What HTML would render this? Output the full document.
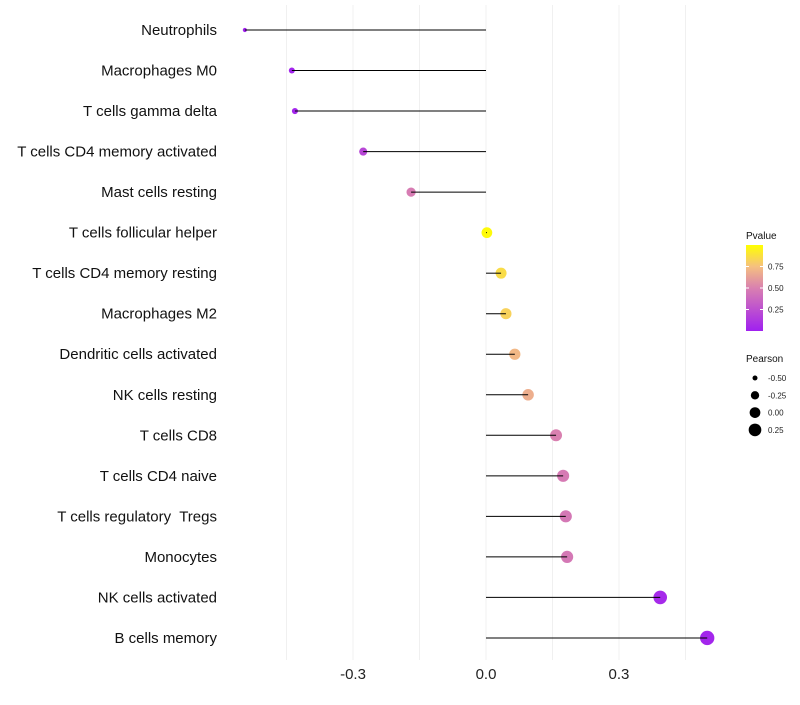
<!DOCTYPE html>
<html><head><meta charset="utf-8"><style>
body{margin:0;background:#fff;font-family:"Liberation Sans",sans-serif}
text{white-space:pre}
</style></head><body>
<svg id="c" width="800" height="700" xmlns="http://www.w3.org/2000/svg">
<defs><linearGradient id="g" x1="0" y1="1" x2="0" y2="0">
<stop offset="0" stop-color="#a020f0"/><stop offset="0.5" stop-color="#d980b0"/><stop offset="0.75" stop-color="#f5c080"/><stop offset="1" stop-color="#ffff00"/></linearGradient></defs>
</svg>
<script>
const categories=["Neutrophils","Macrophages M0","T cells gamma delta","T cells CD4 memory activated","Mast cells resting","T cells follicular helper","T cells CD4 memory resting","Macrophages M2","Dendritic cells activated","NK cells resting","T cells CD8","T cells CD4 naive","T cells regulatory  Tregs","Monocytes","NK cells activated","B cells memory"];
const pearson=[-0.544,-0.438,-0.431,-0.277,-0.169,0.002,0.034,0.045,0.065,0.095,0.158,0.174,0.180,0.183,0.393,0.499];
const pvalue=[0.01,0.02,0.03,0.2,0.48,0.98,0.86,0.82,0.72,0.68,0.5,0.47,0.46,0.46,0.05,0.03];
const xTicks=[-0.3,0,0.3];
const xGrid=[-0.45,-0.3,-0.15,0,0.15,0.3,0.45];
const sizeLegend=[-0.5,-0.25,0,0.25];
const pTicks=[0.25,0.5,0.75];
const NS="http://www.w3.org/2000/svg",svg=document.getElementById('c');
const X=v=>486+v*443.3;
const Y=i=>30+i*40.53;
const R=v=>Math.sqrt(4+(v+0.55)*45);
const Ppx=p=>331-p*86;
function col(p){const st=[[0,[160,32,240]],[0.5,[217,128,176]],[0.75,[245,192,128]],[1,[255,255,0]]];
for(let k=1;k<st.length;k++){if(p<=st[k][0]){const a=st[k-1],b=st[k],t=(p-a[0])/(b[0]-a[0]);
return 'rgb('+a[1].map((c,j)=>Math.round(c+(b[1][j]-c)*t)).join(',')+')';}}return 'rgb(255,255,0)';}
function mk(t,a,p){const e=document.createElementNS(NS,t);for(const k in a)e.setAttribute(k,a[k]);(p||svg).appendChild(e);return e;}
xGrid.forEach(v=>{const l=mk('line',{x1:X(v),x2:X(v),y1:5,y2:660,stroke:'#f0f0f0','stroke-width':1});

});
xTicks.forEach(v=>{const t=mk('text',{x:X(v),y:679,'text-anchor':'middle','font-size':15,fill:'#222'});t.textContent=v.toFixed(1);

});
categories.forEach((c,i)=>{
const t=mk('text',{x:217,y:Y(i)+5,'text-anchor':'end','font-size':15,fill:'#111'});t.textContent=c;


const d=mk('circle',{cx:X(pearson[i]),cy:Y(i),r:R(pearson[i]),fill:col(pvalue[i])});


const l=mk('line',{x1:X(0),x2:X(pearson[i]),y1:Y(i),y2:Y(i),stroke:'#000','stroke-width':1});


});
let t=mk('text',{x:746,y:239,'font-size':10,fill:'#111'});t.textContent='Pvalue';


const cb=mk('rect',{x:746,y:245,width:17,height:86,fill:'url(#g)'});


pTicks.forEach(p=>{mk('line',{x1:746,x2:749,y1:Ppx(p),y2:Ppx(p),stroke:'#fff'});mk('line',{x1:760,x2:763,y1:Ppx(p),y2:Ppx(p),stroke:'#fff'});
const s=mk('text',{x:768,y:Ppx(p)+3,'font-size':8,fill:'#222'});s.textContent=p.toFixed(2);

});
t=mk('text',{x:746,y:362,'font-size':10,fill:'#111'});t.textContent='Pearson';


sizeLegend.forEach((v,k)=>{const y=378+k*17.3;
const c=mk('circle',{cx:755,cy:y,r:R(v),fill:'#000'});


const s=mk('text',{x:768,y:y+3,'font-size':8,fill:'#222'});s.textContent=v.toFixed(2);

});
</script>
</body></html>
